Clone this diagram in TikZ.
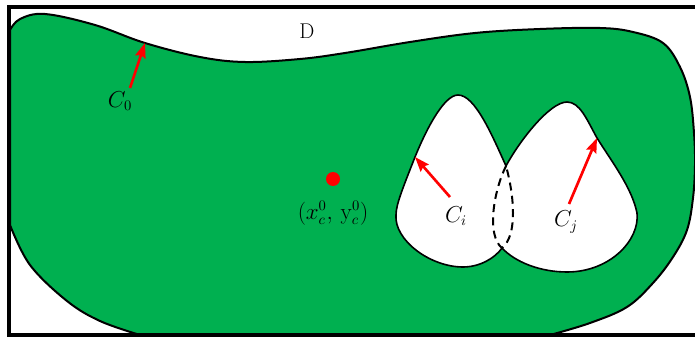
\documentclass[tikz,border=0pt]{standalone}
\usepackage{amsmath}
\usepackage{tikz}
\usetikzlibrary{arrows.meta,calc}
\definecolor{regiongreen}{RGB}{0, 176, 80}
\definecolor{markred}{RGB}{255, 0, 0}

\begin{document}
\begin{tikzpicture}[
    x=0.75pt, y=-0.75pt,
    every node/.style={align=center, font=\fontsize{16}{19}\selectfont},
    region/.style={fill=regiongreen, draw=black, line width=1.5pt},
    hole/.style={fill=white, draw=black, line width=1.2pt},
    hidden/.style={draw=black, line width=1.5pt, dash pattern=on 6pt off 4pt},
    frame/.style={draw=black, line width=3.2pt},
    normal/.style={draw=markred, line width=2pt, -{Stealth[length=11pt, width=8pt, inset=1.5pt]}},
    centre/.style={circle, fill=markred, minimum size=10.5pt, inner sep=0pt}
]
\useasboundingbox (0,0) rectangle (695,338);

% Green region bounded by C_0
\path[region] (10,225) -- (10,30)
    -- plot[smooth, tension=0.6] coordinates {(10,30) (20,19) (45,14) (95,25) (145,43) (200,57) (245,62) (300,59) (345,53) (410,42) (475,33) (540,29) (600,28) (633,32) (663,43) (680,67) (690,97) (694,133) (695,165) (693,198) (687,230) (673,257) (653,283) (627,307) (590,323) (550,335)}
    -- (140,335)
    -- plot[smooth, tension=0.6] coordinates {(140,335) (100,321) (67,301) (30,265) (10,225)}
    -- cycle;

% Two overlapping holes C_i and C_j
\path[hole] (506,166) .. controls (492,135) and (475,95) .. (458,95)
    .. controls (445,95) and (428,125) .. (415,157)
    .. controls (402,190) and (396,205) .. (396,215)
    .. controls (394,240) and (430,267) .. (463,267)
    .. controls (480,267) and (495,258) .. (502,248)
    .. controls (515,262) and (540,272) .. (567,272)
    .. controls (610,272) and (640,240) .. (637,213)
    .. controls (632,188) and (612,162) .. (597,138)
    .. controls (587,120) and (580,102) .. (567,102)
    .. controls (550,102) and (520,140) .. (506,166) -- cycle;

% Hidden part of the overlap
\path[hidden] (506,166) .. controls (494,190) and (486,235) .. (502,248)
    .. controls (518,235) and (514,195) .. (506,166);

% Domain D
\draw[frame] (700,7) -- (9,7) -- (9,335) -- (700,335);
\node (domain) at (307,31) {D};

% Centre point
\node[centre] (centredot) at (333,179) {};
\node (centrelabel) at (333,213) {$(x_c^0,\,\mathrm{y}_c^0)$};

% Boundary labels and arrows
\node (c0label) at (120,101) {$C_0$};
\node (cilabel) at (456,216) {$C_i$};
\node (cjlabel) at (566,222) {$C_j$};
\coordinate (c0tail) at (130,88);
\coordinate (c0tip) at (145,43);
\coordinate (citail) at (450,197);
\coordinate (citip) at (415,157);
\coordinate (cjtail) at (569,204);
\coordinate (cjtip) at (597,138);
\draw[normal] (c0tail) -- (c0tip);
\draw[normal] (citail) -- (citip);
\draw[normal] (cjtail) -- (cjtip);

\end{tikzpicture}
\end{document}
